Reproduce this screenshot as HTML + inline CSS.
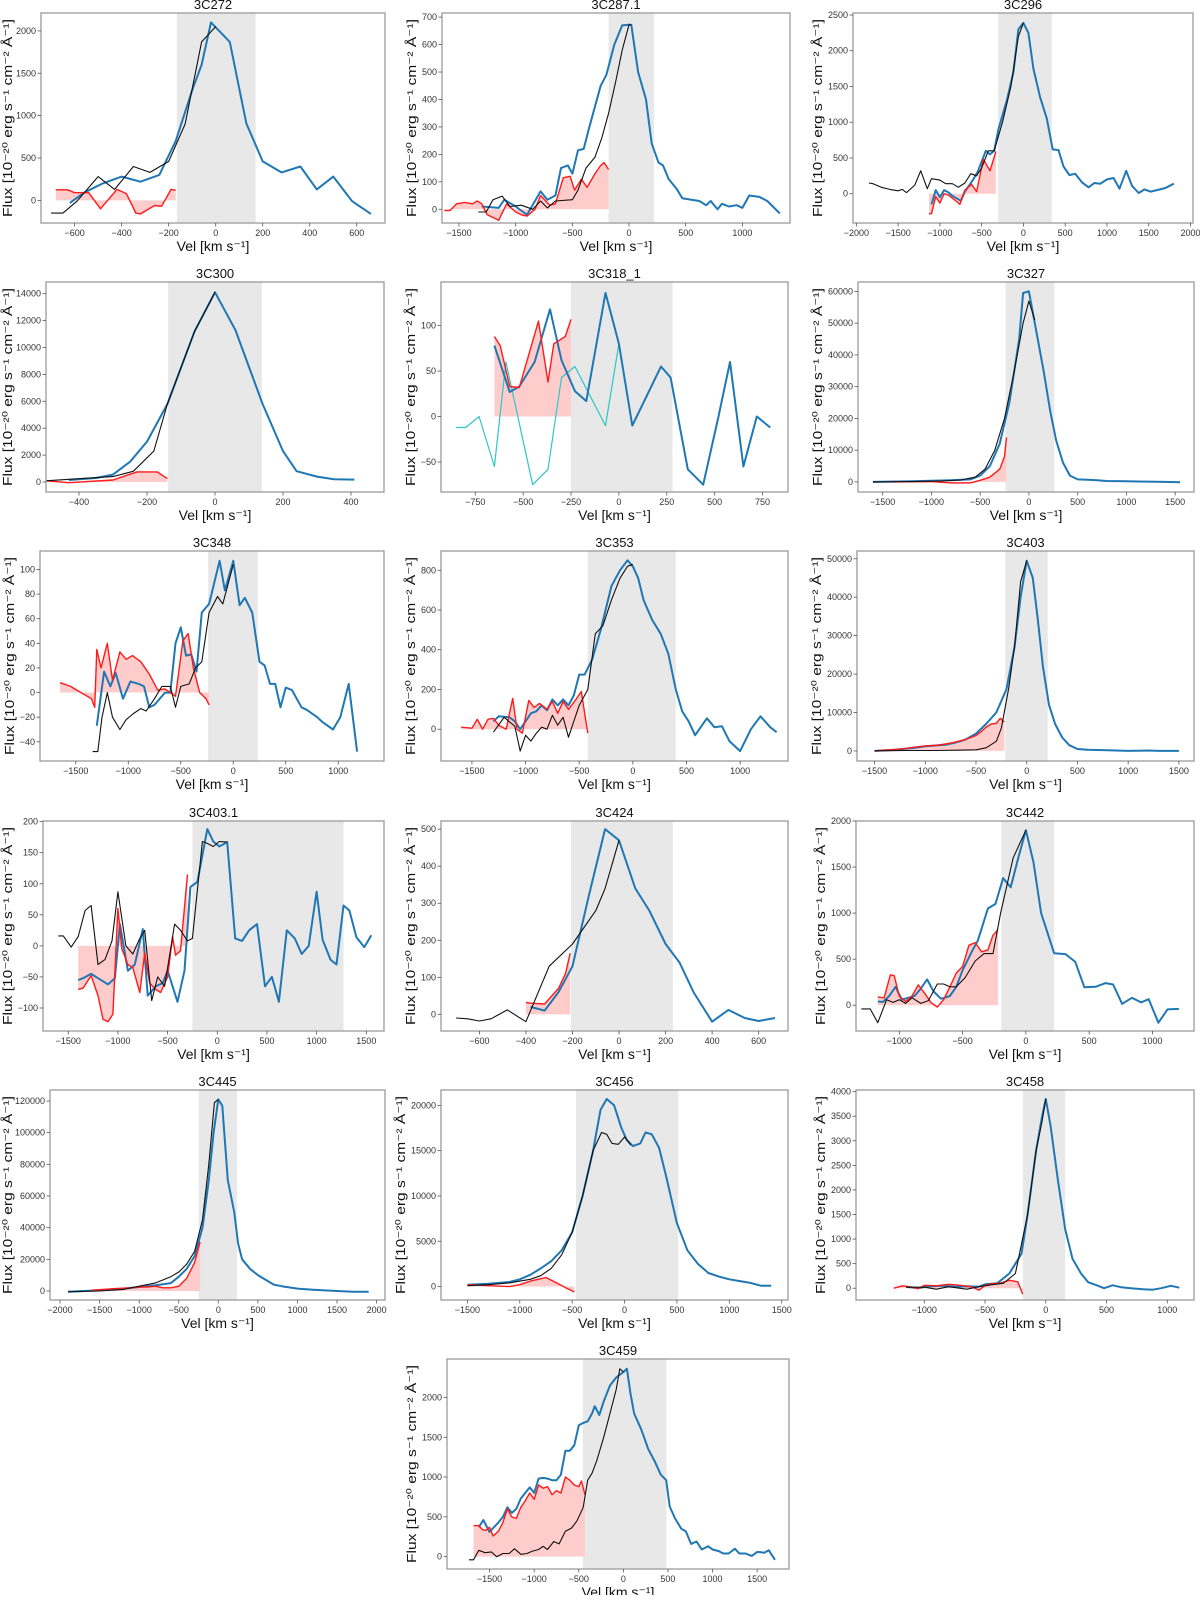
<!DOCTYPE html>
<html><head><meta charset="utf-8"><style>
html,body{margin:0;padding:0;background:#fff}
svg text{font-family:"Liberation Sans","DejaVu Sans",sans-serif}
</style></head><body>
<svg id="fig" xmlns="http://www.w3.org/2000/svg" width="1200" height="1595" viewBox="0 0 1200 1595"></svg>
<script>
// ---------- data (velocity km/s, flux) ----------
const p1Blue=[[-620,-30],[-560,90],[-480,200],[-400,280],[-320,220],[-240,300],[-170,700],[-100,1300],[-60,1600],[-20,2100],[60,1870],[130,910],[200,460],[280,330],[360,400],[430,130],[500,280],[580,-10],[660,-160]];
const p1Black=[[-700,-150],[-650,-150],[-590,-10],[-500,280],[-430,130],[-350,400],[-280,330],[-200,460],[-130,900],[-60,1870],[0,2050]];
const p1Red=[[-680,125],[-630,125],[-600,90],[-540,90],[-490,-100],[-420,130],[-380,80],[-340,-150],[-320,-160],[-260,-60],[-230,-70],[-190,130],[-170,120]];
const p2Blue=[[-1300,10],[-1150,5],[-1100,35],[-1000,10],[-900,-20],[-780,65],[-720,35],[-650,50],[-600,150],[-540,160],[-500,130],[-450,215],[-400,220],[-350,300],[-250,450],[-200,490],[-130,600],[-60,670],[0,672],[20,672],[80,500],[150,400],[200,240],[260,170],[300,160],[350,110],[420,75],[470,40],[550,35],[620,30],[680,15],[720,30],[780,0],[820,20],[880,10],[950,15],[1000,5],[1060,50],[1150,45],[1220,30],[1330,-15]];
const p2Black=[[-1330,-10],[-1260,-10],[-1200,35],[-1120,48],[-1050,10],[-950,15],[-850,0],[-780,30],[-720,5],[-650,30],[-500,35],[-450,70],[-380,150],[-300,190],[-240,260],[-180,350],[-120,460],[-60,580],[0,672],[20,672]];
const p2Red=[[-1630,-5],[-1580,-5],[-1520,20],[-1450,25],[-1380,20],[-1340,30],[-1300,20],[-1250,-20],[-1150,-40],[-1080,20],[-1000,-10],[-950,-20],[-900,-25],[-830,0],[-780,50],[-700,15],[-650,20],[-580,115],[-520,120],[-480,70],[-420,110],[-370,80],[-300,130],[-250,160],[-220,170],[-180,145]];
const p3Blue=[[-1100,-150],[-1050,50],[-1000,-50],[-950,50],[-900,20],[-850,-30],[-750,-100],[-700,30],[-600,200],[-550,300],[-450,600],[-400,550],[-350,600],[-300,900],[-200,1300],[-120,1700],[-60,2300],[0,2390],[60,2250],[120,1750],[200,1350],[280,1050],[350,620],[420,610],[480,380],[550,260],[620,280],[700,160],[780,90],[850,150],[920,140],[1000,200],[1080,220],[1150,70],[1230,320],[1300,110],[1380,10],[1450,60],[1520,30],[1600,50],[1700,80],[1800,140]];
const p3Black=[[-1850,150],[-1800,140],[-1700,90],[-1600,60],[-1500,40],[-1450,60],[-1400,15],[-1300,120],[-1230,320],[-1150,70],[-1100,210],[-1000,190],[-930,140],[-850,140],[-780,90],[-700,150],[-630,280],[-560,250],[-500,360],[-420,600],[-350,600],[-250,1000],[-150,1500],[-60,2200],[0,2390]];
const p3Red=[[-1130,-280],[-1100,-280],[-1050,-40],[-1000,-130],[-950,0],[-900,-20],[-820,-90],[-760,-150],[-700,50],[-620,130],[-560,30],[-480,480],[-400,320],[-330,590]];
const p4Blue=[[-430,150],[-350,300],[-300,550],[-250,1500],[-200,3000],[-140,5800],[-60,11200],[0,14100],[60,11300],[140,5800],[200,2300],[240,800],[300,400],[350,200],[410,180]];
const p4Black=[[-500,80],[-430,200],[-300,400],[-240,800],[-180,2300],[-140,5800],[-60,11200],[0,14100]];
const p4Red=[[-500,100],[-430,-50],[-300,150],[-230,750],[-170,750],[-140,250]];
const p5Blue=[[-650,78],[-570,27],[-520,33],[-440,60],[-360,118],[-300,62],[-230,28],[-170,17],[-70,136],[0,80],[70,-10],[220,55],[270,43],[360,-58],[440,-75],[520,0],[580,60],[650,-55],[720,0],[790,-12]];
const p5Cyan=[[-850,-12],[-800,-12],[-730,0],[-650,-55],[-590,60],[-450,-75],[-370,-58],[-300,43],[-230,55],[-70,-10],[0,80]];
const p5Red=[[-650,88],[-620,78],[-570,33],[-520,32],[-420,105],[-370,38],[-340,80],[-280,88],[-250,107]];
const p6Blue=[[-1600,0],[-1200,200],[-800,500],[-600,800],[-500,2000],[-400,5000],[-300,12000],[-200,25000],[-100,45000],[-60,59500],[0,60000],[60,50000],[150,35000],[220,22000],[280,13000],[350,6000],[420,2000],[500,800],[600,700],[700,500],[800,300],[1000,200],[1200,100],[1400,0],[1550,-100]];
const p6Black=[[-1600,0],[-1200,100],[-900,300],[-700,600],[-550,1500],[-450,4000],[-350,10000],[-250,20000],[-150,35000],[-60,50000],[0,57000],[60,51000]];
const p6Red=[[-1400,0],[-1000,100],[-800,-300],[-600,-300],[-500,500],[-400,1500],[-300,4000],[-250,8000],[-230,14000]];
const p7Blue=[[-1300,-27],[-1230,17],[-1170,5],[-1120,16],[-1050,-5],[-980,9],[-900,7],[-850,5],[-800,-12],[-750,-10],[-650,0],[-600,0],[-550,40],[-500,53],[-450,30],[-400,31],[-350,17],[-300,65],[-230,72],[-130,107],[-80,83],[0,107],[60,71],[110,77],[180,65],[250,25],[300,22],[350,7],[400,7],[450,-12],[500,4],[560,2],[650,-12],[700,-14],[800,-20],[850,-24],[950,-30],[1020,-20],[1100,7],[1180,-48]];
const p7Black=[[-1340,-48],[-1290,-48],[-1250,-20],[-1200,0],[-1150,-20],[-1080,-30],[-1020,-22],[-950,-17],[-880,-13],[-830,-15],[-750,-5],[-680,5],[-600,5],[-550,-12],[-500,5],[-420,7],[-360,20],[-300,25],[-230,65],[-150,78],[-100,72],[0,104]];
const p7Red=[[-1650,8],[-1550,5],[-1450,0],[-1350,-5],[-1320,-12],[-1300,35],[-1260,20],[-1200,40],[-1150,10],[-1080,33],[-1020,27],[-960,30],[-880,25],[-800,15],[-720,2],[-650,3],[-600,0],[-550,-3],[-480,42],[-430,48],[-380,20],[-320,0],[-260,-5],[-230,-10]];
const p8Blue=[[-1300,40],[-1250,65],[-1150,60],[-1100,40],[-1050,0],[-1000,40],[-950,80],[-900,90],[-850,120],[-800,95],[-750,150],[-700,120],[-650,150],[-600,120],[-550,170],[-500,275],[-450,275],[-380,350],[-300,500],[-200,720],[-120,800],[-50,850],[0,820],[50,760],[100,650],[180,550],[260,480],[330,380],[400,200],[460,90],[520,40],[580,-30],[690,55],[760,10],[830,15],[900,-60],[1000,-110],[1100,0],[1190,65],[1280,10],[1340,-15]];
const p8Black=[[-1300,-15],[-1200,60],[-1100,15],[-1050,-110],[-1000,-30],[-950,-60],[-900,-20],[-850,10],[-800,0],[-750,70],[-700,20],[-650,60],[-600,-40],[-550,40],[-500,120],[-420,200],[-350,480],[-280,520],[-200,650],[-120,760],[-50,820],[0,830]];
const p8Red=[[-1600,10],[-1500,5],[-1450,50],[-1400,0],[-1350,50],[-1300,55],[-1250,20],[-1180,0],[-1120,155],[-1080,0],[-1030,-20],[-970,145],[-920,110],[-870,130],[-800,100],[-750,140],[-700,80],[-650,140],[-600,100],[-530,150],[-480,190],[-420,-20]];
const p9Blue=[[-1500,0],[-1300,300],[-1100,800],[-1000,1200],[-800,1600],[-700,2200],[-600,3000],[-500,4500],[-400,7000],[-300,10000],[-200,16000],[-120,27000],[-60,40000],[0,49500],[60,45000],[110,34000],[160,22000],[220,12000],[280,7000],[350,3500],[420,1500],[500,500],[600,300],[800,200],[1000,0],[1200,100],[1300,0],[1500,0]];
const p9Black=[[-1500,0],[-1200,100],[-900,100],[-700,200],[-500,300],[-400,800],[-300,2500],[-250,6000],[-180,16000],[-120,27000],[-60,44000],[0,49500]];
const p9Red=[[-1500,0],[-1300,400],[-1200,600],[-1100,1000],[-1000,1300],[-900,1400],[-800,1800],[-700,2300],[-600,3000],[-500,4000],[-450,5000],[-400,6200],[-350,7000],[-300,7200],[-260,8500],[-220,7500]];
const p10Blue=[[-1400,-55],[-1350,-52],[-1270,-45],[-1150,-57],[-1100,-62],[-1030,-52],[-980,35],[-900,-40],[-830,-30],[-750,27],[-700,-80],[-620,-65],[-550,-60],[-500,-40],[-400,-90],[-330,-40],[-270,95],[-200,103],[-100,188],[-40,168],[20,160],[100,167],[180,12],[250,8],[320,25],[400,35],[480,-65],[550,-50],[620,-90],[700,25],[780,12],[850,-13],[920,0],[1000,87],[1060,10],[1140,-22],[1200,-30],[1270,65],[1330,57],[1400,14],[1480,-2],[1550,17]];
const p10Black=[[-1600,16],[-1550,16],[-1470,-2],[-1400,15],[-1330,57],[-1270,65],[-1200,-30],[-1130,-22],[-1060,8],[-1000,87],[-920,0],[-850,-13],[-780,12],[-730,25],[-660,-88],[-600,-50],[-530,-65],[-430,35],[-370,25],[-300,8],[-250,12],[-150,168],[-100,165],[-40,160],[20,168],[100,167]];
const p10Red=[[-1400,-70],[-1350,-68],[-1270,-48],[-1200,-80],[-1150,-118],[-1100,-122],[-1050,-110],[-1000,60],[-960,-5],[-900,-30],[-850,-35],[-780,-75],[-730,-12],[-680,-60],[-620,-70],[-570,-75],[-500,-50],[-450,15],[-420,-15],[-370,-8],[-300,115]];
const p11Blue=[[-380,20],[-320,10],[-260,60],[-200,130],[-130,320],[-60,500],[0,470],[70,340],[130,280],[200,190],[260,140],[320,60],[400,-20],[470,12],[540,-10],[600,-18],[670,-10]];
const p11Black=[[-700,-10],[-650,-12],[-600,-18],[-550,-12],[-480,12],[-400,-20],[-300,130],[-200,190],[-100,280],[-60,340],[0,470]];
const p11Red=[[-400,32],[-380,30],[-320,28],[-260,70],[-230,110],[-210,165]];
const p12Blue=[[-1170,40],[-1130,35],[-1080,100],[-1030,200],[-980,60],[-930,80],[-880,100],[-830,180],[-780,280],[-730,150],[-670,70],[-600,100],[-550,200],[-500,380],[-420,600],[-380,700],[-300,1050],[-240,1100],[-180,1380],[-120,1280],[-60,1600],[0,1900],[60,1550],[120,1000],[223,565],[313,555],[390,470],[462,195],[551,200],[629,240],[689,225],[760,15],[838,80],[910,30],[970,65],[1047,-190],[1119,-45],[1209,-40]];
const p12Black=[[-1300,-40],[-1230,-40],[-1170,-190],[-1100,60],[-1050,30],[-1000,60],[-950,20],[-900,80],[-830,20],[-770,50],[-700,230],[-650,230],[-600,200],[-550,200],[-480,300],[-400,480],[-330,560],[-260,560],[-200,1000],[-100,1600],[0,1900]];
const p12Red=[[-1170,90],[-1120,80],[-1070,330],[-1040,320],[-1000,100],[-950,40],[-900,100],[-850,220],[-800,130],[-750,30],[-700,-20],[-650,60],[-600,200],[-550,350],[-500,420],[-450,650],[-400,680],[-350,580],[-300,600],[-260,760],[-220,820]];
const p13Blue=[[-1900,-500],[-1500,500],[-1200,1500],[-1000,2500],[-800,3500],[-600,5000],[-500,9000],[-400,14000],[-300,22000],[-200,40000],[-120,70000],[-60,100000],[0,121000],[50,117000],[120,70000],[200,50000],[250,30000],[300,20000],[400,14000],[500,10000],[600,7000],[700,4000],[800,3000],[1000,1500],[1200,800],[1500,0],[1700,-500],[1900,-500]];
const p13Black=[[-1900,-500],[-1500,0],[-1200,1000],[-1000,3000],[-800,5000],[-600,9000],[-500,12000],[-400,17000],[-300,25000],[-200,45000],[-120,80000],[-50,119000],[0,121000]];
const p13Red=[[-1600,500],[-1300,1500],[-1100,2000],[-1000,2500],[-900,2500],[-800,3000],[-700,2000],[-600,2000],[-500,3000],[-400,8000],[-300,18000],[-230,31000]];
const p14Blue=[[-1500,200],[-1300,300],[-1100,500],[-1000,800],[-900,1300],[-800,2000],[-700,2800],[-600,4000],[-500,6000],[-400,10000],[-300,15000],[-230,19500],[-170,20700],[-100,20000],[-30,17500],[20,16200],[80,15500],[150,15800],[200,17000],[260,16800],[330,15300],[400,12000],[500,7000],[600,4000],[700,2500],[800,1500],[900,1100],[1000,800],[1100,600],[1200,400],[1300,100],[1400,100]];
const p14Black=[[-1500,100],[-1300,200],[-1100,400],[-900,800],[-800,1200],[-700,2000],[-600,3500],[-500,6000],[-400,10000],[-300,15000],[-220,17000],[-170,16800],[-120,15800],[-60,15700],[0,16500],[60,15600]];
const p14Red=[[-1500,200],[-1300,100],[-1100,0],[-1000,200],[-900,600],[-750,1000],[-650,400],[-550,-200],[-480,-600]];
const p15Blue=[[-1150,30],[-1050,0],[-950,40],[-850,50],[-750,30],[-650,40],[-550,30],[-500,80],[-400,100],[-300,300],[-200,700],[-150,1500],[-80,2800],[-30,3500],[0,3850],[40,3300],[100,2200],[160,1200],[220,600],[290,300],[350,120],[420,60],[480,0],[550,60],[620,20],[700,0],[800,-20],[880,-30],[950,0],[1030,50],[1100,10]];
const p15Black=[[-1150,20],[-1000,20],[-900,-20],[-800,30],[-650,-20],[-550,30],[-450,70],[-350,100],[-250,300],[-150,1500],[-80,2800],[-30,3400],[0,3850]];
const p15Red=[[-1250,0],[-1180,50],[-1100,20],[-1050,-10],[-1000,60],[-900,50],[-800,80],[-700,60],[-600,20],[-550,-40],[-500,60],[-450,90],[-380,100],[-300,160],[-230,130],[-190,-120]];
const p16Blue=[[-1620,370],[-1570,460],[-1500,310],[-1450,370],[-1400,430],[-1350,500],[-1300,620],[-1250,550],[-1200,600],[-1150,730],[-1100,800],[-1050,870],[-1000,800],[-950,980],[-900,990],[-850,980],[-800,960],[-750,960],[-700,1030],[-650,1330],[-600,1330],[-550,1400],[-500,1650],[-450,1680],[-400,1700],[-350,1800],[-320,1890],[-270,1780],[-220,1950],[-150,2150],[-80,2250],[0,2320],[40,2360],[80,2050],[120,1800],[200,1600],[280,1350],[350,1200],[420,1030],[480,960],[520,630],[580,480],[650,350],[700,320],[760,160],[820,190],[880,90],[950,130],[1000,90],[1070,70],[1120,40],[1180,40],[1250,100],[1300,40],[1370,40],[1440,10],[1500,60],[1580,50],[1630,80],[1700,-40]];
const p16Black=[[-1730,-40],[-1680,-40],[-1620,80],[-1550,50],[-1480,60],[-1420,0],[-1350,40],[-1280,40],[-1220,100],[-1150,30],[-1080,40],[-1020,70],[-950,90],[-900,130],[-850,90],[-780,190],[-720,160],[-650,320],[-580,360],[-520,450],[-450,620],[-400,960],[-350,1050],[-300,1200],[-220,1500],[-150,1800],[-80,2100],[-40,2360],[0,2320]];
const p16Red=[[-1680,390],[-1620,390],[-1580,340],[-1540,330],[-1500,370],[-1460,260],[-1400,320],[-1350,430],[-1300,600],[-1250,500],[-1200,480],[-1150,620],[-1100,700],[-1050,800],[-1000,720],[-950,900],[-900,860],[-850,880],[-800,780],[-750,830],[-700,800],[-650,1000],[-600,960],[-550,900],[-500,880],[-470,950],[-430,780]];

const panelTitles=["3C272","3C287.1","3C296","3C300","3C318_1","3C327","3C348","3C353","3C403","3C403.1","3C424","3C442","3C445","3C456","3C458","3C459"];
const xLimits=[[-743,720],[-1650,1420],[-2040,2030],[-497,497],[-929,883],[-1753,1693],[-1841,1436],[-1788,1446],[-1673,1649],[-1754,1678],[-765,726],[-1342,1328],[-2127,2106],[-1752,1560],[-1562,1220],[-1977,1857]];
const yLimits=[[-267,2211],[-50,715],[-410,2528],[-743,14868],[-83,148],[-3180,62970],[-55.6,115],[-160,897],[-2623,52022],[-137,201],[-45,522],[-280,2000],[-5700,126966],[-1483,21692],[-240,4034],[-155,2483]];
const shadeRanges=[[-165,170],[-180,220],[-303,340],[-138,138],[-250,280],[-240,260],[-239,234],[-420,400],[-211,207],[-251,1270],[-207,231],[-194,223],[-248,235],[-464,513],[-188,160],[-455,484]];
const xTicks=[[-600,-400,-200,0,200,400,600],[-1500,-1000,-500,0,500,1000],[-2000,-1500,-1000,-500,0,500,1000,1500,2000],[-400,-200,0,200,400],[-750,-500,-250,0,250,500,750],[-1500,-1000,-500,0,500,1000,1500],[-1500,-1000,-500,0,500,1000],[-1500,-1000,-500,0,500,1000],[-1500,-1000,-500,0,500,1000,1500],[-1500,-1000,-500,0,500,1000,1500],[-600,-400,-200,0,200,400,600],[-1000,-500,0,500,1000],[-2000,-1500,-1000,-500,0,500,1000,1500,2000],[-1500,-1000,-500,0,500,1000,1500],[-1000,-500,0,500,1000],[-1500,-1000,-500,0,500,1000,1500]];
const yTicks=[[0,500,1000,1500,2000],[0,100,200,300,400,500,600,700],[0,500,1000,1500,2000,2500],[0,2000,4000,6000,8000,10000,12000,14000],[-50,0,50,100],[0,10000,20000,30000,40000,50000,60000],[-40,-20,0,20,40,60,80,100],[0,200,400,600,800],[0,10000,20000,30000,40000,50000],[-100,-50,0,50,100,150,200],[0,100,200,300,400,500],[0,500,1000,1500,2000],[0,20000,40000,60000,80000,100000,120000],[0,5000,10000,15000,20000],[0,500,1000,1500,2000,2500,3000,3500,4000],[0,500,1000,1500,2000]];
const blueSeries=[p1Blue,p2Blue,p3Blue,p4Blue,p5Blue,p6Blue,p7Blue,p8Blue,p9Blue,p10Blue,p11Blue,p12Blue,p13Blue,p14Blue,p15Blue,p16Blue];
const blackSeries=[p1Black,p2Black,p3Black,p4Black,null,p6Black,p7Black,p8Black,p9Black,p10Black,p11Black,p12Black,p13Black,p14Black,p15Black,p16Black];
const redSeries=[p1Red,p2Red,p3Red,p4Red,p5Red,p6Red,p7Red,p8Red,p9Red,p10Red,p11Red,p12Red,p13Red,p14Red,p15Red,p16Red];
const cyanSeries=[null,null,null,null,p5Cyan,null,null,null,null,null,null,null,null,null,null,null];

// ---------- layout ----------
const ROW_TOP=[13,282,551,821,1090,1359];
const BOX_H=210;
const BOXES=[[41,385],[442,790],[853,1193],[46,384],[441,788],[858,1194],[40,384],[441,788],[857,1194],[43,384],[441,788],[856,1194],[50,385],[441,788],[856,1194],[447,789]];
const ROWS=[0,0,0,1,1,1,2,2,2,3,3,3,4,4,4,5];

const NS="http://www.w3.org/2000/svg";
const svg=document.getElementById('fig');
function mk(tag,attrs,parent){const e=document.createElementNS(NS,tag);for(const k in attrs)e.setAttribute(k,attrs[k]);(parent||svg).appendChild(e);return e;}
function fmt(v){return v<0?'\u2212'+Math.abs(v):String(v);}

for(let i=0;i<16;i++){
  const [x0,x1]=BOXES[i];const y0=ROW_TOP[ROWS[i]];const y1=y0+BOX_H;
  const [xa,xb]=xLimits[i];const [ya,yb]=yLimits[i];
  const sx=v=>x0+(v-xa)/(xb-xa)*(x1-x0);
  const sy=v=>y1-(v-ya)/(yb-ya)*(y1-y0);
  const g=mk('g',{});
  
  
  const cp=mk('clipPath',{id:'c'+i},g);mk('rect',{x:x0,y:y0,width:x1-x0,height:BOX_H},cp);
  const plot=mk('g',{'clip-path':'url(#c'+i+')'},g);
  const sh=mk('rect',{x:sx(shadeRanges[i][0]),y:y0,width:sx(shadeRanges[i][1])-sx(shadeRanges[i][0]),height:BOX_H,fill:'#e8e8e8'},plot);
  
  
  const red=redSeries[i];
  let d='M'+sx(red[0][0])+','+sy(0);
  red.forEach(p=>{d+='L'+sx(p[0])+','+sy(p[1]);});
  d+='L'+sx(red[red.length-1][0])+','+sy(0)+'Z';
  const fillEl=mk('path',{d:d,fill:'#ffcccc',stroke:'none'},plot);
  
  
  const line=(arr,color,w,name)=>{if(!arr)return;const pts=arr.map(p=>sx(p[0]).toFixed(1)+','+sy(p[1]).toFixed(1)).join(' ');
    const el=mk('polyline',{points:pts,fill:'none',stroke:color,'stroke-width':w,'stroke-linejoin':'round'},plot);
    
    };
  line(cyanSeries[i],'#2fc6c6',1.2,'cyan-spectrum-line');
  line(blueSeries[i],'#1f77b4',2,'observed-spectrum-line');
  line(redSeries[i],'#ff1a1a',1.4,'residual-spectrum-line');
  line(blackSeries[i],'#111',1.1,'mirrored-spectrum-line');
  const fr=mk('rect',{x:x0,y:y0,width:x1-x0,height:BOX_H,fill:'none',stroke:'#9a9a9a','stroke-width':1.3},g);
  
  
  xTicks[i].forEach(t=>{const x=sx(t);
    mk('line',{x1:x,x2:x,y1:y1,y2:y1+3.5,stroke:'#555','stroke-width':0.8},g);
    const tx=mk('text',{x:x,y:y1+13,'font-size':9,'text-anchor':'middle',fill:'#333'},g);tx.textContent=fmt(t);
    
    });
  let maxw=0;
  yTicks[i].forEach(t=>{const y=sy(t);
    mk('line',{x1:x0-3.5,x2:x0,y1:y,y2:y,stroke:'#555','stroke-width':0.8},g);
    const s=fmt(t);maxw=Math.max(maxw,s.length);
    const ty=mk('text',{x:x0-5,y:y+3,'font-size':9,'text-anchor':'end',fill:'#333'},g);ty.textContent=s;
    
    });
  const ti=mk('text',{x:(x0+x1)/2,y:y0-4,'font-size':13,'text-anchor':'middle',fill:'#111'},g);ti.textContent=panelTitles[i];
  
  
  const xl=mk('text',{x:(x0+x1)/2,y:y1+28,'font-size':14,'text-anchor':'middle',fill:'#111'},g);xl.textContent='Vel  [km s\u207B\u00B9]';
  
  
  const lx=Math.max(12,x0-(maxw*5+11));const ly=(y0+y1)/2;
  const yl=mk('text',{x:lx,y:ly,'font-size':13,'text-anchor':'middle',fill:'#111',transform:'rotate(-90 '+lx+' '+ly+')',textLength:198,lengthAdjust:'spacingAndGlyphs'},g);
  yl.textContent='Flux  [10\u207B\u00B2\u2070 erg s\u207B\u00B9 cm\u207B\u00B2 \u00C5\u207B\u00B9]';
  
  
}
</script>
</body></html>
